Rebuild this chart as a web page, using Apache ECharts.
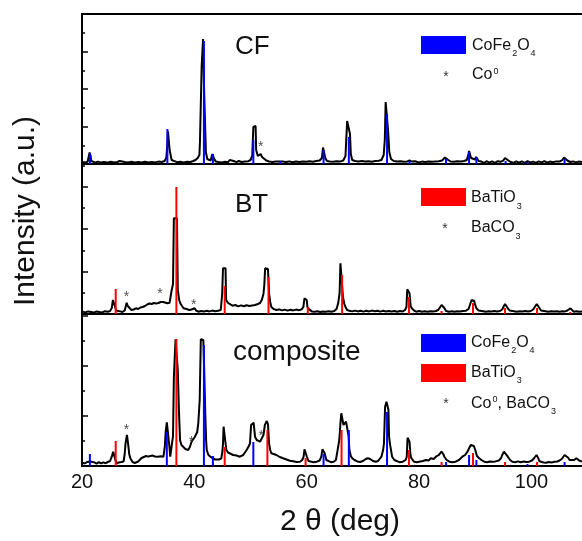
<!DOCTYPE html>
<html>
<head>
<meta charset="utf-8">
<script src="https://cdn.jsdelivr.net/npm/echarts@6/dist/echarts.min.js"></script>
<style>
  html, body { margin: 0; padding: 0; background: #fff; }
  #chart { width: 582px; height: 541px; }
</style>
</head>
<body>
<div id="chart"></div>
<script>
// XRD 数据 [2θ, 强度]，强度为各面板内的相对值 (a.u.)
var cfCurve = [
  [20.1,2],[20.6,1.6],[21.0,2.2],[21.2,4],[21.35,11.5],[21.5,9],[21.65,3],[22.0,2],[22.4,1.4],[22.8,2.4],
  [23.3,1.6],[23.9,2],[24.5,1.4],[25.1,2.2],[25.7,1.6],[26.3,2],[26.7,3],[27.0,1.6],[27.6,2],[28.2,1.5],
  [28.8,2.2],[29.4,1.6],[30.0,2],[30.6,1.5],[31.2,2.3],[31.8,1.6],[32.4,2],[33.0,1.6],[33.6,2.4],[34.2,2],
  [34.7,3],[35.0,6],[35.2,20],[35.3,32.7],[35.5,32.7],[35.6,14],[35.8,13],[35.95,4],[36.3,2.4],[36.9,1.8],
  [37.5,2.2],[38.1,1.6],[38.7,2.3],[39.3,2],[39.8,3],[40.2,4],[40.6,6],[40.9,9],[41.0,22.7],[41.25,22.7],
  [41.3,98],[41.5,98],[41.55,125],[41.7,125],[41.75,70],[41.95,70],[42.05,12],[42.3,5],[42.6,3],[42.9,3.5],
  [43.2,10],[43.4,10],[43.55,5],[43.8,2.5],[44.3,2],[44.9,1.6],[45.5,2.2],[46.0,1.8],[46.3,4],[46.5,2],
  [47.0,3],[47.5,1.8],[47.9,3],[48.4,2],[49.0,2.4],[49.6,2.8],[50.0,4],[50.3,8],[50.45,10],[50.5,37],
  [50.9,38],[51.0,14],[51.3,8],[51.55,6],[51.8,10],[52.05,7],[52.4,5],[52.8,3.5],[53.3,2.5],[53.9,2],
  [54.5,2.6],[55.0,2.4],[55.3,3.5],[55.7,2.4],[56.3,2],[56.9,2.6],[57.5,1.8],[58.1,2.4],[58.7,2],[59.3,2.6],
  [59.9,2.2],[60.5,2.8],[61.1,2.2],[61.7,3],[62.3,3.5],[62.7,6],[62.9,16.5],[63.15,16],[63.3,6],[63.6,3],
  [64.1,2.6],[64.7,2.2],[65.3,2.8],[65.9,2.4],[66.5,3.5],[66.9,8],[67.0,20],[67.2,43],[67.5,42],[67.7,30],
  [67.85,10],[68.1,4],[68.6,3],[69.2,2.4],[69.8,3],[70.4,2.4],[71.0,2.8],[71.6,2.2],[72.2,3],[72.8,3.2],
  [73.3,4],[73.7,9],[73.9,24],[74.05,62],[74.35,62],[74.5,32],[74.7,12],[75.0,5],[75.5,3],[76.1,2.4],
  [76.7,2.8],[77.3,2.2],[77.9,2.6],[78.3,3.5],[78.7,2.4],[79.3,2.8],[79.9,1.6],[80.5,2.4],[81.1,2],[81.7,2.6],
  [82.3,2.2],[82.9,2.6],[83.5,2.8],[84.1,3.5],[84.4,5],[84.6,6.5],[84.9,6.5],[85.2,4],[85.6,2.6],[86.2,2.2],
  [86.8,2.8],[87.4,2.4],[88.0,3],[88.5,4],[88.75,9],[88.9,13],[89.05,13],[89.25,6],[89.6,4],[89.95,4.5],
  [90.15,7],[90.35,5.5],[90.6,3],[91.1,2.4],[91.6,1.2],[92.0,2.8],[92.5,1.4],[93.0,2.6],[93.5,1.2],[94.0,2.8],
  [94.5,2.2],[95.0,3.5],[95.3,6],[95.6,6],[95.9,3.5],[96.3,2],[96.8,1.2],[97.3,2.6],[97.8,1.4],[98.3,2.6],
  [98.8,1.2],[99.3,2.8],[99.8,1.6],[100.3,2.4],[100.8,1.2],[101.3,2.6],[101.8,1.6],[102.3,2.8],[102.8,1.4],[103.3,2.4],
  [103.8,1.8],[104.4,2.6],[105.0,2.4],[105.5,4],[105.8,6.5],[106.1,6],[106.4,3.5],[106.9,2],[107.4,2.6],[107.9,1.6],
  [108.4,2.4],[109,2]
];
var btCurve = [
  [20.1,2.4],[20.6,1.6],[21.1,2.6],[21.6,2],[22.1,1.4],[22.6,2.6],[23.1,2],[23.6,1.6],[24.1,2.8],[24.6,2.2],
  [25.0,3],[25.3,6],[25.5,14],[25.75,14],[25.9,7],[26.1,3.5],[26.4,2],[26.8,2.6],[27.2,2],[27.6,3.5],
  [27.8,8],[27.95,11.3],[28.15,8],[28.4,6],[28.8,4],[29.2,4.5],[29.6,5.7],[30.0,5],[30.4,6.5],[30.8,7],
  [31.2,8],[31.6,9.5],[32.0,10.5],[32.4,10],[32.8,11],[33.2,10.5],[33.6,11],[34.0,12],[34.2,14],[34.45,12],
  [34.8,11],[35.2,10.7],[35.6,11.3],[35.9,22],[36.2,30],[36.35,95.7],[36.9,95.7],[37.05,24],[37.3,14],[37.5,10.7],
  [37.8,8],[38.1,5.7],[38.6,5],[39.1,4],[39.5,4.5],[39.8,5.7],[40.05,5.7],[40.3,3.5],[40.7,2.3],[41.2,3],
  [41.7,2.4],[42.2,3.2],[42.7,2.6],[43.2,3.4],[43.7,2.8],[44.2,3.2],[44.7,4],[44.95,20],[45.1,45.7],[45.55,45.7],
  [45.65,14],[46.0,11],[46.3,9],[46.8,8.3],[47.3,9],[47.8,7.6],[48.3,8.6],[48.8,7.8],[49.3,8.8],[49.8,8],
  [50.3,8.6],[50.8,9],[51.3,10],[51.7,11],[52.0,14],[52.3,20],[52.45,29],[52.6,45.7],[53.1,45],[53.2,44],
  [53.3,20.7],[53.5,12],[53.7,7],[54.1,5],[54.6,4],[55.1,4.6],[55.6,3.6],[56.1,4.4],[56.6,3.4],[57.1,4.2],
  [57.6,3.6],[58.1,4.4],[58.6,3.8],[59.1,4.6],[59.4,7],[59.6,15.7],[59.85,15.7],[60.0,14],[60.15,6],[60.4,4],
  [60.9,2.6],[61.4,2.2],[61.9,2.8],[62.4,2],[62.9,2.6],[63.4,2.2],[63.9,2.8],[64.4,2.2],[64.9,3],[65.3,5],
  [65.6,10.7],[65.85,20.7],[66.0,50.7],[66.3,49],[66.45,17],[66.7,10],[66.9,7],[67.2,4],[67.6,3.3],[68.1,2.6],
  [68.6,3.4],[69.1,2.6],[69.6,3.2],[70.1,2.4],[70.6,3.2],[71.1,2.6],[71.6,3.4],[72.1,2.8],[72.6,3.2],[73.1,2.4],
  [73.6,3.2],[74.1,2.6],[74.6,3],[75.1,2.4],[75.6,3],[76.1,2.2],[76.6,3],[77.1,2.6],[77.5,4],[77.75,7],
  [77.9,24.7],[78.2,24.7],[78.3,20.7],[78.5,8],[78.7,5.7],[79.1,3.5],[79.5,2.3],[80.0,3],[80.5,2.2],[81.0,2.8],
  [81.5,2.2],[82.0,2.8],[82.5,2.4],[83.0,3],[83.4,4],[83.7,6],[84.0,9],[84.3,8],[84.5,6],[84.8,3],
  [85.3,2.3],[85.8,2.8],[86.3,2.2],[86.8,2.8],[87.3,2.4],[87.8,3],[88.3,3.2],[88.8,5],[89.1,7],[89.35,14],
  [89.8,13.3],[89.95,10],[90.2,5.7],[90.6,3.5],[90.9,2.3],[91.4,2.8],[91.9,2.2],[92.4,2.8],[92.9,2.4],[93.4,3],
  [93.9,2.4],[94.4,3],[94.8,4.5],[95.0,7],[95.3,10],[95.6,9],[95.8,5.7],[96.1,3.5],[96.4,2.3],[96.9,2.8],
  [97.4,2.2],[97.9,2.8],[98.4,2.4],[98.9,3],[99.4,2.4],[99.9,3],[100.3,4.5],[100.6,7],[100.95,10],[101.2,9],
  [101.45,5.7],[101.7,3.5],[102.0,2.3],[102.5,2.8],[103.0,2.2],[103.5,2.8],[104.0,2.4],[104.5,2.8],[105.0,2.2],[105.5,2.8],
  [106.0,2.6],[106.4,3.5],[106.7,5],[106.95,5.7],[107.2,4],[107.5,2.3],[108.0,2.8],[108.5,2.2],[109,2.6]
];
var compCurve = [
  [20.1,3.3],[20.5,2.5],[20.9,4],[21.2,3],[21.5,4.5],[21.8,2.7],[22.2,3.6],[22.6,2.4],[23.0,3.8],[23.4,2.6],
  [23.8,3.6],[24.2,2.8],[24.6,4],[25.0,5],[25.3,9.3],[25.55,14.3],[25.8,9],[26.0,5],[26.2,2.7],[26.6,3.6],
  [27.0,4],[27.4,4.5],[27.6,12],[27.75,22.7],[28.0,31],[28.2,22.7],[28.4,12],[28.6,7.7],[29.0,4],[29.4,3],
  [29.7,2.7],[30.0,4.5],[30.3,6],[30.6,8],[30.9,9.3],[31.4,10],[31.8,9.4],[32.1,11],[32.6,10.4],[33.0,9.5],
  [33.5,9.3],[34.0,9.8],[34.5,9.3],[34.75,20],[34.9,34.3],[35.1,43.7],[35.4,43.7],[35.55,20],[35.7,9.3],[36.0,9.3],
  [36.2,30],[36.35,88.3],[36.6,88.3],[36.65,126.7],[36.9,126.7],[37.05,96],[37.25,56],[37.45,26],[37.7,21],[38.0,19.3],
  [38.4,17],[38.9,16],[39.2,19],[39.5,24.3],[39.8,26],[40.1,29.3],[40.5,34],[40.7,42.7],[40.95,66],[41.15,126.7],
  [41.6,126],[41.75,96],[41.95,51],[42.1,25],[42.2,16],[42.5,11],[42.7,9.3],[43.1,8.3],[43.4,7.7],[43.7,6.5],
  [44.0,6],[44.4,6.5],[44.8,7.7],[45.0,15],[45.1,22.7],[45.2,39.3],[45.55,39.3],[45.7,16],[46.0,13.5],[46.3,12.7],
  [46.9,11],[47.5,10.5],[48.1,9.3],[48.7,11],[49.3,16],[49.7,20],[49.9,22.7],[50.1,41],[50.55,43.3],[50.8,29.3],
  [51.1,26],[51.4,25],[51.7,24.3],[52.0,26],[52.3,31],[52.55,41],[52.9,45],[53.1,42],[53.3,22.7],[53.5,16],
  [53.7,12.7],[54.1,12],[54.6,11],[55.2,9],[55.8,7.7],[56.4,6.5],[57.0,5.3],[57.6,4.8],[58.2,4],[58.8,4.3],
  [59.2,6],[59.45,9.3],[59.6,16.7],[59.85,16.7],[60.05,9],[60.3,5],[60.6,4.3],[61.2,3.8],[61.8,4.3],[62.3,5.5],
  [62.6,9.3],[62.8,16.7],[63.05,16.7],[63.2,12.7],[63.5,6],[63.8,4.3],[64.3,3.8],[64.8,4.3],[65.2,6],[65.5,16],
  [65.8,26],[66.0,42.7],[66.15,52.7],[66.4,52.7],[66.55,41],[66.8,42],[67.0,44.3],[67.3,44.3],[67.45,30],[67.6,16],
  [67.85,10],[68.1,7.7],[68.5,6],[69.0,4.6],[69.5,4],[70.0,5],[70.5,7],[70.9,7.7],[71.3,7],[71.8,5],
  [72.3,4.3],[72.7,5],[73.0,7],[73.3,9.3],[73.6,16],[73.75,22.7],[73.95,59.3],[74.2,64.3],[74.4,64.3],[74.55,56],
  [74.65,30],[74.8,22.7],[75.2,9.3],[75.6,6],[75.9,4.3],[76.5,3.8],[77.1,4.3],[77.6,6],[77.8,9],[77.95,28.3],
  [78.2,28.3],[78.3,24.3],[78.45,12],[78.6,8],[79.1,4.3],[79.6,3.8],[80.2,4.5],[80.7,5],[81.2,6],[81.7,5.5],
  [82.1,7.7],[82.6,7],[83.0,9.3],[83.5,11],[83.8,13],[84.0,14.3],[84.3,12],[84.5,9.3],[84.9,6],[85.4,4.3],
  [85.9,3.8],[86.5,4.3],[87.1,6],[87.7,9.3],[88.2,11],[88.6,14.3],[88.9,16],[89.2,21],[89.5,22.7],[89.75,20],
  [90.0,16],[90.3,10],[90.7,7.7],[91.1,6],[91.6,4.3],[92.1,3.8],[92.6,4.4],[93.1,4.2],[93.6,4.6],[94.2,5.5],
  [94.6,8],[94.8,11],[95.1,14.3],[95.4,13],[95.8,9.3],[96.2,6],[96.6,4.3],[97.1,3.8],[97.6,4.6],[98.1,3.8],
  [98.6,4.4],[99.1,4],[99.6,4.3],[100.1,5.5],[100.5,8],[100.9,11],[101.2,8],[101.4,5],[101.8,4],[102.2,3.6],
  [102.6,3.3],[103.1,4],[103.6,3.5],[104.1,4.2],[104.6,4.5],[105.0,5.5],[105.4,7],[105.9,11],[106.2,9],[106.5,8.5],
  [106.8,6],[107.1,5],[107.6,6],[108.0,7.7],[108.5,5.5],[109,4.3]
];

// 标准卡片 (竖线)
var cfeSticksCF = [[21.4,11],[35.2,35],[41.7,123],[43.3,10],[50.5,24],[55.3,3],[63.0,14],[67.5,27],
  [74.3,50],[78.3,3],[84.8,5],[88.9,12],[90.2,7],[95.4,3],[99.3,2],[105.9,5]];
var btoSticksBT = [[26.0,25],[36.8,127],[45.4,28],[53.2,37],[60.2,7],[66.3,39],[78.2,17],[84.0,3],
  [89.6,11],[95.3,6],[101.0,6],[106.9,2]];
var cfeSticksComp = [[21.4,12],[35.1,34],[41.7,121],[43.3,10],[50.5,24],[63.0,12],[67.5,36],[74.3,54],
  [84.8,4],[88.9,11],[90.2,6],[99.3,2],[105.9,4]];
var btoSticksComp = [[26.0,25],[36.8,127],[45.4,19],[53.0,36],[59.8,8],[66.2,36],[78.2,16],[84.0,4],
  [89.6,13],[95.3,4],[101.0,4]];

// 杂相星号
var starsCF = [[51.8,20]];
var starsBT = [[27.9,20],[33.9,23],[39.9,12]];
var starsComp = [[27.9,39],[39.5,27],[51.9,33]];

var xTicks = [20, 40, 60, 80, 100];
var panelMax = [150, 150, 152];
var panelStep = [37.5, 42.5, 50];

var FONT = "'Liberation Sans', Arial, sans-serif";
var BLUE = "#0000ff";
var RED = "#ff0000";

var chart = echarts.init(document.getElementById("chart"), null, { renderer: "canvas" });

var grids = [
  { left: 82, right: 0, top: 14, height: 150 },
  { left: 82, right: 0, top: 164, height: 150 },
  { left: 82, right: 0, top: 314, height: 152 }
];

function xAxisOf(idx, showLabel) {
  return {
    type: "value",
    gridIndex: idx,
    min: xTicks[0],
    max: 109,
    interval: 20,
    axisLine: { show: true, onZero: false, lineStyle: { color: "#000", width: 2 } },
    axisTick: { show: false },
    splitLine: { show: false },
    axisLabel: {
      show: showLabel,
      showMaxLabel: false,
      margin: 6,
      fontSize: 20,
      fontFamily: FONT,
      color: "#111"
    }
  };
}

function yAxisOf(idx) {
  return {
    type: "value",
    gridIndex: idx,
    min: 0,
    max: panelMax[idx],
    interval: panelStep[idx],
    axisLine: { show: true, lineStyle: { color: "#000", width: 2 } },
    axisTick: { show: true, inside: true, length: 6, lineStyle: { color: "#000", width: 1.5 } },
    minorTick: { show: true, splitNumber: 2, length: 3, lineStyle: { color: "#000", width: 1.5 } },
    axisLabel: { show: false },
    splitLine: { show: false }
  };
}

var xAxes = [xAxisOf(0, false), xAxisOf(1, false), xAxisOf(2, true)];
// 顶部边框
var topAxis = xAxisOf(0, false);
topAxis.position = "top";
xAxes.push(topAxis);

function curveSeries(data, idx) {
  return {
    type: "line",
    xAxisIndex: idx,
    yAxisIndex: idx,
    data: data,
    showSymbol: false,
    symbol: "none",
    lineStyle: { color: "#000", width: 2 },
    z: 2
  };
}
function stickSeries(data, idx, color) {
  return {
    type: "bar",
    xAxisIndex: idx,
    yAxisIndex: idx,
    data: data,
    barWidth: 2,
    barGap: "-100%",
    itemStyle: { color: color },
    z: 3
  };
}
function starSeries(data, idx) {
  return {
    type: "scatter",
    xAxisIndex: idx,
    yAxisIndex: idx,
    data: data,
    symbol: "circle",
    symbolSize: 2,
    itemStyle: { color: "rgba(0,0,0,0)" },
    label: {
      show: true,
      position: "inside",
      formatter: "*",
      fontSize: 14,
      fontFamily: FONT,
      color: "#222",
      offset: [0, 3]
    },
    z: 4
  };
}

// 图例文字 (带上下标)
var rich = {
  m: { fontSize: 16, fontFamily: FONT, fill: "#111", verticalAlign: "top" },
  s: { fontSize: 9, fontFamily: FONT, fill: "#111", verticalAlign: "top", padding: [12, 0, 0, 1] },
  u: { fontSize: 9, fontFamily: FONT, fill: "#111", verticalAlign: "top", padding: [0, 0, 0, 1] }
};
function legendText(x, y, text) {
  return { type: "text", x: x, y: y, style: { text: text, rich: rich, verticalAlign: "top", align: "left" } };
}
function legendBox(x, y, color) {
  return { type: "rect", shape: { x: x, y: y, width: 45, height: 18 }, style: { fill: color } };
}
function star(x, y) {
  return { type: "text", x: x, y: y, style: { text: "*", font: "14px " + FONT, fill: "#333", align: "center", verticalAlign: "middle" } };
}
function panelLabel(x, y, text, size) {
  return { type: "text", x: x, y: y, style: { text: text, font: size + "px " + FONT, fill: "#111", align: "left", verticalAlign: "middle" } };
}

var option = {
  animation: false,
  backgroundColor: "#fff",
  grid: grids,
  xAxis: xAxes,
  yAxis: [yAxisOf(0), yAxisOf(1), yAxisOf(2)],
  series: [
    curveSeries(cfCurve, 0),
    curveSeries(btCurve, 1),
    curveSeries(compCurve, 2),
    stickSeries(cfeSticksCF, 0, BLUE),
    stickSeries(btoSticksBT, 1, RED),
    stickSeries(cfeSticksComp, 2, BLUE),
    stickSeries(btoSticksComp, 2, RED),
    starSeries(starsCF, 0),
    starSeries(starsBT, 1),
    starSeries(starsComp, 2)
  ],
  graphic: [
    panelLabel(235, 47, "CF", 26),
    panelLabel(235, 205, "BT", 26),
    panelLabel(233, 352, "composite", 28),

    legendBox(421, 36, BLUE),
    legendText(472, 37.5, "{m|CoFe}{s|2}{m|O}{s|4}"),
    star(446, 77),
    legendText(472, 67, "{m|Co}{u|0}"),

    legendBox(421, 188, RED),
    legendText(471, 190, "{m|BaTiO}{s|3}"),
    star(445, 229),
    legendText(471, 220, "{m|BaCO}{s|3}"),

    legendBox(421, 334, BLUE),
    legendBox(421, 364, RED),
    legendText(471, 334.5, "{m|CoFe}{s|2}{m|O}{s|4}"),
    legendText(471, 364.5, "{m|BaTiO}{s|3}"),
    star(446, 404),
    legendText(471, 395.5, "{m|Co}{u|0}{m|, BaCO}{s|3}"),

    {
      type: "text",
      x: 26,
      y: 211,
      rotation: Math.PI / 2,
      style: { text: "Intensity (a.u.)", font: "30px " + FONT, fill: "#111", align: "center", verticalAlign: "middle" }
    },
    {
      type: "text",
      x: 340,
      y: 522,
      style: { text: "2 θ (deg)", font: "30px " + FONT, fill: "#111", align: "center", verticalAlign: "middle" }
    }
  ]
};

chart.setOption(option);
</script>
</body>
</html>
